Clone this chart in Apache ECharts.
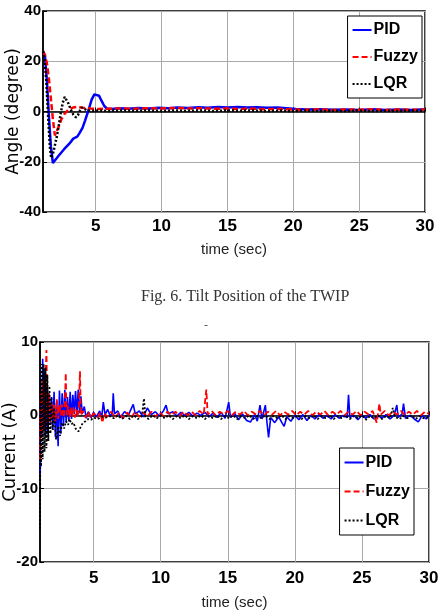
<!DOCTYPE html>
<html>
<head>
<meta charset="utf-8">
<script src="https://cdn.jsdelivr.net/npm/echarts@6/dist/echarts.min.js"></script>
<style>
  html, body { margin: 0; padding: 0; background: #fff; }
  #chart { width: 441px; height: 611px; }
</style>
</head>
<body>
<div id="chart"></div>
<script>
// time ticks shown on both x axes (axis starts at t = 1)
const timeTicks = [5, 10, 15, 20, 25, 30]

// Fig. 6 - tilt angle (degree), [time, value]
const pidAngle = [[1.0,24],[1.15,22],[1.3,12],[1.45,-2],[1.6,-14],[1.75,-20.5],[1.9,-19.8],[2.2,-17.5],[2.6,-15],[3.0,-12.8],[3.3,-10.8],[3.45,-10.2],[3.6,-10],[3.75,-8.8],[4.0,-6.5],[4.2,-3.5],[4.45,0.5],[4.7,4.8],[4.9,6.8],[5.05,7.2],[5.25,6.3],[5.45,4.2],[5.65,2.2],[5.85,1.2],[6.2,1.0],[6.8,1.3],[7.5,1.1],[8.2,1.4],[9,1.2],[9.8,1.5],[10.5,1.3],[11.2,1.6],[12,1.4],[12.8,1.7],[13.5,1.5],[14.3,1.8],[15,1.6],[15.8,1.8],[16.5,1.6],[17.2,1.7],[18,1.5],[18.8,1.6],[19.5,1.3],[20.2,1.0],[21,0.8],[22,0.9],[23,0.7],[24,0.8],[25,0.6],[26,0.9],[27,0.6],[28,0.8],[29,0.6],[30,0.9]]
const fuzzyAngle = [[1.0,24],[1.15,22.5],[1.3,19],[1.45,13],[1.6,5],[1.75,-3],[1.9,-9.5],[2.05,-9],[2.2,-6],[2.4,-3],[2.6,-1.2],[2.8,0],[3.0,1.0],[3.3,1.6],[3.6,1.8],[4,1.5],[4.6,1.2],[5.2,1.0],[6,1.1],[7,1.2],[8,1.1],[9,1.3],[10,1.2],[11,1.4],[12,1.2],[13,1.3],[14,1.1],[15,1.2],[16,1.0],[17,1.1],[18,0.9],[19,1.0],[20,0.8],[21,0.7],[22,0.9],[23,0.6],[24,0.8],[25,0.7],[26,0.9],[27,0.6],[28,0.8],[29,0.7],[30,0.8]]
const lqrAngle = [[1.0,24],[1.12,21],[1.25,12],[1.4,-3],[1.52,-14],[1.62,-18.5],[1.75,-17],[1.9,-13.5],[2.05,-10],[2.2,-5.5],[2.35,-0.5],[2.5,3.5],[2.65,5.8],[2.8,5.5],[2.95,3],[3.1,0.8],[3.3,-1.2],[3.5,-2.3],[3.65,-1.5],[3.8,0.3],[3.95,1.6],[4.1,1.2],[4.35,0.4],[4.7,0.2],[5.2,0.4],[6,0.2],[7,0.4],[8,0.3],[9,0.4],[10,0.2],[11,0.4],[12,0.3],[13,0.4],[14,0.2],[15,0.4],[16,0.3],[17,0.4],[18,0.2],[19,0.3],[20,0.2],[21,0.4],[22,0.2],[23,0.3],[24,0.2],[25,0.4],[26,0.2],[27,0.3],[28,0.2],[29,0.4],[30,0.2]]

// motor current (A), [time, value]
const pidCurrent = [[1.0,-8],[1.05,2],[1.12,-3],[1.2,7.7],[1.28,-2],[1.35,6],[1.42,-3],[1.5,4],[1.58,-2.5],[1.66,3],[1.75,-1],[1.85,2.5],[1.95,-2],[2.05,3.2],[2.15,-3],[2.25,2],[2.35,-4.2],[2.45,3.4],[2.55,-2.5],[2.65,3],[2.75,-1.5],[2.85,3.5],[2.95,-1],[3.05,2.5],[3.15,-0.8],[3.25,3.2],[3.35,-0.5],[3.45,2.8],[3.55,0.2],[3.65,3.3],[3.75,0],[3.85,3.5],[3.95,0.3],[4.05,2.6],[4.15,0.2],[4.3,1.2],[4.45,-0.4],[4.6,0.5],[4.8,-0.3],[5.0,0.4],[5.2,-0.2],[5.45,0.6],[5.6,-0.3],[5.72,1.8],[5.85,0.1],[6.05,0.8],[6.25,-0.2],[6.4,0.5],[6.46,3.0],[6.55,0.2],[6.8,0.6],[7.0,-0.3],[7.3,0.5],[7.6,0.1],[7.95,1.5],[8.1,0.2],[8.4,0.6],[8.7,-0.2],[9.0,1.0],[9.3,0.1],[9.6,0.5],[9.9,-0.1],[10.2,0.6],[10.4,1.4],[10.55,0.2],[10.9,0.5],[11.2,-0.1],[11.5,0.4],[11.8,0],[12.1,0.4],[12.4,-0.1],[12.7,0.3],[13.0,0],[13.3,0.4],[13.6,-0.2],[13.9,0.3],[14.2,-0.3],[14.5,0.4],[14.8,-0.4],[15.07,1.8],[15.2,-0.3],[15.5,0.3],[15.8,-0.6],[16.1,0.2],[16.4,-0.7],[16.7,-0.9],[17.0,0.1],[17.2,-0.8],[17.4,1.4],[17.55,-0.5],[17.8,1.4],[17.9,-0.6],[18.04,-3.0],[18.2,-0.3],[18.5,-1.0],[18.8,-0.2],[19.0,-0.9],[19.2,-1.5],[19.4,-0.2],[19.7,-0.8],[20.0,0],[20.3,-0.6],[20.6,0.1],[20.9,-0.7],[21.2,0],[21.5,-0.5],[21.8,0.1],[22.1,-0.4],[22.4,0],[22.7,-0.5],[23.0,0.1],[23.3,-0.4],[23.6,0],[23.9,-0.3],[24.0,2.8],[24.1,-0.3],[24.4,0],[24.7,-0.6],[25.0,0],[25.3,-0.4],[25.6,0.1],[25.9,-0.5],[26.2,0],[26.5,-0.4],[26.8,0.1],[27.1,-0.5],[27.4,0],[27.6,1.4],[27.7,-0.3],[28.0,0.2],[28.1,1.6],[28.25,-0.4],[28.6,0],[28.9,-0.5],[29.2,-0.9],[29.5,0],[29.8,-0.5],[30,0]]
const fuzzyCurrent = [[1.0,-6],[1.05,3],[1.12,-3],[1.2,5],[1.3,-2],[1.4,4],[1.48,8.9],[1.55,-1],[1.65,3],[1.75,-1],[1.85,1.8],[1.95,-0.5],[2.05,1.5],[2.15,-0.8],[2.25,2.2],[2.35,-0.5],[2.45,1.5],[2.55,0],[2.65,1.5],[2.75,-0.3],[2.85,1.2],[2.92,5.8],[2.98,0],[3.1,1.3],[3.2,-0.3],[3.3,1.0],[3.4,-0.2],[3.5,1.1],[3.6,-0.3],[3.7,0.8],[3.8,-0.2],[3.9,0.9],[3.98,6.0],[4.05,0],[4.2,0.6],[4.4,-0.3],[4.6,0.5],[4.8,-0.4],[5.0,0.3],[5.3,-0.3],[5.5,0.4],[5.65,-1.0],[5.8,0.3],[6.0,-0.2],[6.3,0.5],[6.6,-0.3],[6.9,0.4],[7.2,-0.4],[7.5,0.4],[7.8,-0.3],[8.1,0.5],[8.4,-0.2],[8.7,0.4],[9.0,-0.2],[9.3,0.5],[9.6,-0.2],[9.9,0.4],[10.2,-0.1],[10.5,0.5],[10.8,0],[11.1,0.5],[11.4,-0.1],[11.7,0.5],[12.0,0],[12.3,0.5],[12.6,0],[12.9,0.6],[13.2,0.1],[13.4,3.5],[13.5,0.1],[13.8,0.6],[14.1,0],[14.4,0.5],[14.7,0.1],[15.0,0.6],[15.3,0],[15.6,0.5],[15.9,0.1],[16.2,0.6],[16.5,0],[16.8,0.5],[17.1,0.1],[17.4,0.6],[17.7,0],[18.0,0.5],[18.3,0.1],[18.6,0.6],[18.9,0],[19.2,0.5],[19.5,0.1],[19.8,0.6],[20.1,0],[20.4,0.5],[20.7,0.1],[21.0,0.6],[21.3,0],[21.6,0.5],[21.9,0.1],[22.2,0.6],[22.5,0],[22.8,0.5],[23.1,0.1],[23.4,0.6],[23.7,0],[24.0,0.5],[24.3,0.1],[24.6,0.6],[24.9,0],[25.2,0.5],[25.5,0.1],[25.8,0.6],[26.1,-1.0],[26.2,0.2],[26.3,1.6],[26.4,0.1],[26.7,0.6],[27.0,0],[27.3,0.5],[27.6,0.1],[27.9,0.6],[28.2,0],[28.5,0.5],[28.8,0.1],[29.1,0.6],[29.4,0],[29.7,0.5],[30,0.2]]
const lqrCurrent = [[1.0,-15.5],[1.04,5],[1.08,-7],[1.14,7],[1.2,-6],[1.27,7],[1.34,-5],[1.41,6.5],[1.48,-4.5],[1.55,5.5],[1.62,-3.5],[1.7,4],[1.78,-2.5],[1.86,2.5],[1.95,-2],[2.05,1],[2.2,-3.3],[2.35,-1.5],[2.5,-2.8],[2.65,-1],[2.8,-1.8],[2.95,-0.8],[3.1,-1.3],[3.2,-0.5],[3.35,-1.2],[3.5,-1.0],[3.65,-1.8],[3.86,-2.2],[4.0,-1.7],[4.2,-1.0],[4.4,-0.8],[4.6,-0.5],[4.8,-0.6],[5.0,-0.3],[5.3,-0.5],[5.6,-0.2],[5.9,-0.3],[6.2,-0.1],[6.5,-0.4],[6.8,0],[7.1,-0.5],[7.4,-0.1],[7.7,-0.5],[8.0,0],[8.3,-0.5],[8.6,-0.1],[8.75,2.3],[8.85,-0.2],[9.1,-0.5],[9.4,0],[9.7,-0.4],[10.0,0],[10.3,-0.4],[10.6,0],[10.9,-0.5],[11.2,-0.1],[11.5,-0.4],[11.8,0],[12.1,-0.5],[12.4,-0.1],[12.7,-0.4],[13.0,0],[13.3,-0.5],[13.6,-0.1],[13.9,-0.4],[14.2,0],[14.5,-0.5],[14.8,-0.1],[15.1,-0.4],[15.4,0],[15.7,-0.5],[16.0,-0.1],[16.3,-0.4],[16.6,0],[16.9,-0.5],[17.2,-0.1],[17.5,-0.4],[17.8,0],[18.1,-0.5],[18.4,-0.1],[18.7,-0.4],[19.0,0],[19.3,-0.5],[19.6,-0.1],[19.9,-0.4],[20.2,0],[20.5,-0.5],[20.8,-0.1],[21.1,-0.4],[21.4,0],[21.7,-0.5],[22.0,-0.1],[22.3,-0.4],[22.6,0],[22.9,-0.5],[23.2,-0.1],[23.5,-0.4],[23.8,0],[24.1,-0.5],[24.4,-0.1],[24.7,-0.4],[25.0,0],[25.3,-0.6],[25.6,-0.1],[25.9,-0.4],[26.2,0],[26.5,-0.5],[26.8,-0.1],[27.1,-0.4],[27.3,1.0],[27.45,-0.2],[27.8,-0.5],[28.1,-0.1],[28.4,-0.4],[28.7,0],[29.0,-0.5],[29.3,-0.1],[29.6,-0.4],[30,-0.2]]

const tickFont = "'Liberation Sans', Arial, sans-serif"

function xAxisCfg(gridIndex, labelMargin, nameGap) {
  return {
    type: 'value', gridIndex: gridIndex, min: 1, max: 30,
    name: 'time (sec)', nameLocation: 'middle', nameGap: nameGap, nameMoveOverlap: false,
    nameTextStyle: { fontFamily: tickFont, fontSize: 15, color: '#222' },
    axisLine: { lineStyle: { color: '#000', width: 1.5 } },
    axisTick: { inside: true, length: 4, customValues: timeTicks, lineStyle: { color: '#000' } },
    axisLabel: { customValues: timeTicks, margin: labelMargin, fontFamily: tickFont, fontWeight: 'bold', fontSize: 17, color: '#000' },
    splitLine: { show: true, lineStyle: { color: '#aaa', width: 1 } }
  }
}

function yAxisCfg(gridIndex, min, max, interval, name, nameSize, nameGap) {
  return {
    type: 'value', gridIndex: gridIndex, min: min, max: max, interval: interval,
    name: name, nameLocation: 'middle', nameGap: nameGap, nameRotate: 90, nameMoveOverlap: false,
    nameTextStyle: { fontFamily: 'DejaVu Sans', fontSize: nameSize, color: '#000' },
    axisLine: { show: true, lineStyle: { color: '#000', width: 1.5 } },
    axisTick: { inside: true, length: 4, lineStyle: { color: '#000' } },
    axisLabel: { margin: 2, fontFamily: tickFont, fontWeight: 'bold', fontSize: 15, color: '#000' },
    splitLine: { show: true, lineStyle: { color: '#aaa', width: 1 } }
  }
}

function lineSeries(name, data, idx, color, type, width) {
  return {
    name: name, type: 'line', xAxisIndex: idx, yAxisIndex: idx, data: data,
    symbol: 'none', animation: false,
    lineStyle: { color: color, type: type, width: width },
    itemStyle: { color: color }
  }
}

function legendCfg(right, top, gap, lh) {
  return {
    orient: 'vertical', right: right, top: top,
    data: ['PID', 'Fuzzy', 'LQR'],
    backgroundColor: '#fff', borderColor: '#000', borderWidth: 1, borderRadius: 0,
    padding: [5, 4, 5, 4], itemGap: gap, itemWidth: 19, itemHeight: 12,
    selectedMode: false,
    itemStyle: { opacity: 0 },
    textStyle: { fontFamily: tickFont, fontWeight: 'bold', fontSize: 16, color: '#000', lineHeight: lh, padding: [0, 0, 0, -3] }
  }
}

let myChart = echarts.init(document.getElementById('chart'))
let option = {
  backgroundColor: '#fff',
  animation: false,
  grid: [
    { left: 43, top: 11, width: 382, height: 201, outerBoundsMode: 'none', show: true, borderColor: '#000', borderWidth: 1.5, backgroundColor: '#fff' },
    { left: 40, top: 342, width: 389, height: 220, outerBoundsMode: 'none', show: true, borderColor: '#000', borderWidth: 1.5, backgroundColor: '#fff' }
  ],
  xAxis: [xAxisCfg(0, 6, 30), xAxisCfg(1, 8, 33)],
  yAxis: [
    yAxisCfg(0, -40, 40, 20, 'Angle (degree)', 17, 21),
    yAxisCfg(1, -20, 10, 10, 'Current (A)', 18, 21)
  ],
  legend: [legendCfg(19, 16, 9, 18), legendCfg(27, 448, 10, 19)],
  graphic: [
    { type: 'text', left: 141, top: 289, style: { text: 'Fig. 6. Tilt Position of the TWIP', fontFamily: "'Liberation Serif', serif", fontSize: 16, fill: '#333' } },
    { type: 'text', left: 204, top: 320, style: { text: '-', fontFamily: "'Liberation Serif', serif", fontSize: 12, fill: '#555' } }
  ],
  series: [
    lineSeries('PID', pidAngle, 0, '#0000ff', 'solid', 2.5),
    lineSeries('Fuzzy', fuzzyAngle, 0, '#ff0000', [6, 3], 2.5),
    lineSeries('LQR', lqrAngle, 0, '#000000', [2, 2], 2.5),
    lineSeries('PID', pidCurrent, 1, '#0000ff', 'solid', 1.6),
    lineSeries('Fuzzy', fuzzyCurrent, 1, '#ff0000', [6, 3], 1.8),
    lineSeries('LQR', lqrCurrent, 1, '#000000', [2, 2], 1.8)
  ]
}
myChart.setOption(option)

window.addEventListener('resize', () => {
  myChart.resize()
})
</script>
</body>
</html>
